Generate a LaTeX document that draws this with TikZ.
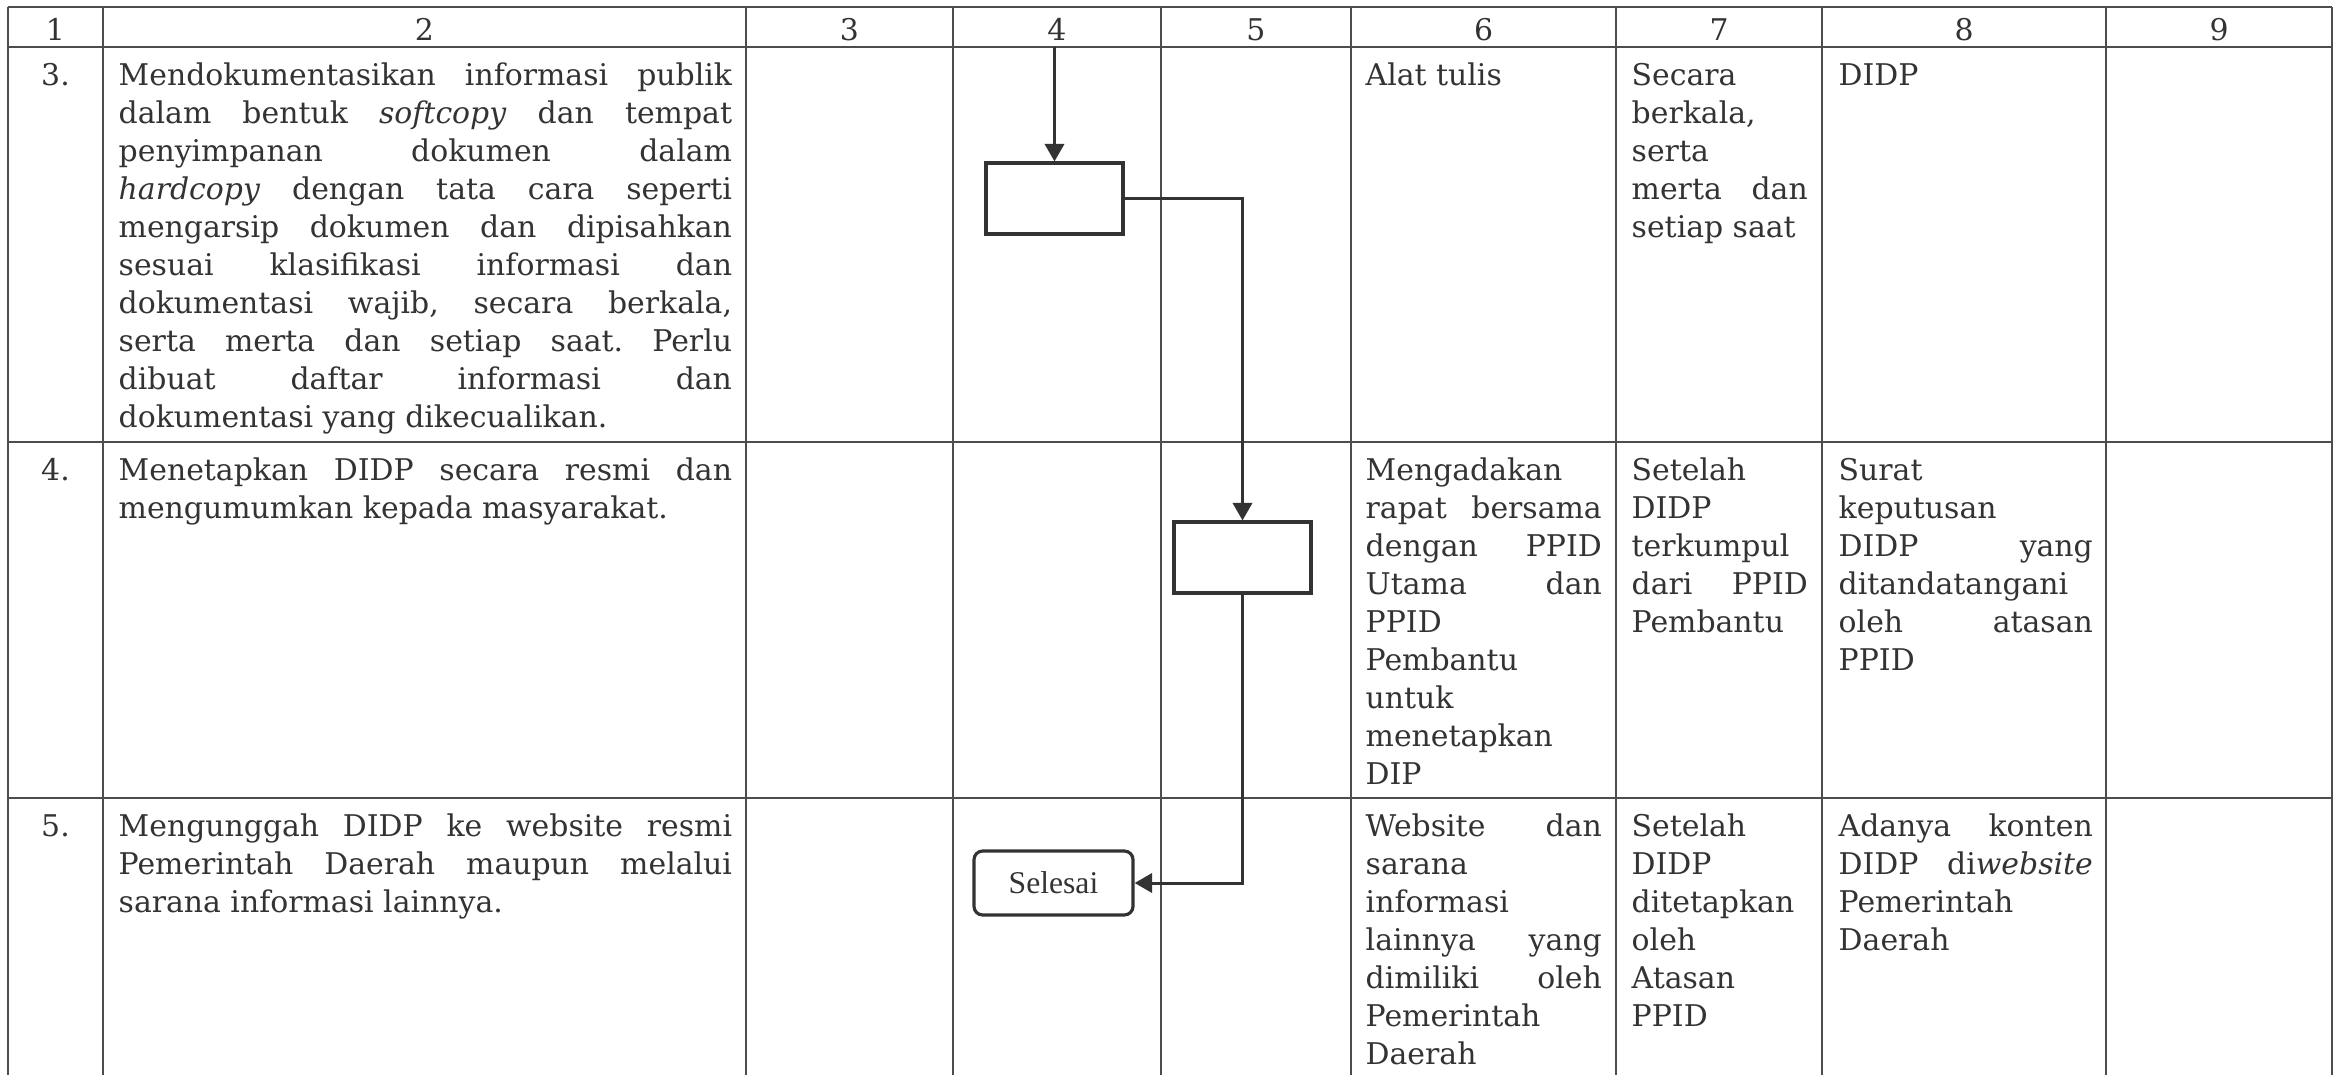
\documentclass[tikz,border=0pt]{standalone}
\usepackage{fontspec}
\setmainfont{DejaVu Serif}
\newfontfamily\timesfont{Liberation Serif}
\usetikzlibrary{arrows.meta}
\definecolor{ink}{HTML}{333333}
\definecolor{rulegray}{HTML}{4D4D4D}
\frenchspacing
\hyphenpenalty=10000
\exhyphenpenalty=10000
\hbadness=10000
\tolerance=10000
\newcommand{\cellfont}{\fontsize{8.5}{10.82}\selectfont}
\tikzset{
  gridline/.style={draw=rulegray, line width=0.55pt},
  cell/.style={anchor=base west, inner sep=0pt, text width=#1, align=justify, text=ink, font=\cellfont},
  num/.style={anchor=base, inner sep=0pt, text=ink, font=\cellfont},
  procbox/.style={draw=ink, line width=0.9pt, minimum width=1.37cm, minimum height=0.71cm, inner sep=0pt},
  endbox/.style={draw=ink, line width=0.9pt, rounded corners=2.5pt, minimum width=1.59cm, minimum height=0.64cm,
    inner sep=0pt, text=ink, font=\timesfont\fontsize{9}{10}\selectfont},
  flow/.style={draw=ink, line width=0.85pt, -{Triangle[length=5pt,width=5.5pt]}}
}
\begin{document}
\begin{tikzpicture}[x=0.01cm,y=-0.01cm]
      \fill[white] (0,0) rectangle (2344,1075);
      \useasboundingbox (0,0) rectangle (2344,1075);
      % table
      \foreach \x in {8,103,746,953,1161,1351,1616,1822,2106,2332}
        \draw[gridline] (\x,7) -- (\x,1075);
      \foreach \y in {7,47,442,798}
        \draw[gridline] (8,\y) -- (2332,\y);
      \foreach \i/\x in {1/55.5,2/424.5,3/849.5,4/1057,5/1256,6/1483.5,7/1719,8/1964,9/2219}
        \node[num] (h\i) at (\x,40) {\i};
      \draw
        (55.5,85) node[num] (n3){3.}
        (55.5,480) node[num] (n4){4.}
        (55.5,836) node[num] (n5){5.};
      % column 2
      \node[cell=6.13cm] (d3) at (118,85) {Mendokumentasikan informasi publik\linebreak
        dalam bentuk \textit{softcopy} dan tempat\linebreak
        penyimpanan dokumen dalam\linebreak
        \textit{hardcopy} dengan tata cara seperti\linebreak
        mengarsip dokumen dan dipisahkan\linebreak
        sesuai klasifikasi informasi dan\linebreak
        dokumentasi wajib, secara berkala,\linebreak
        serta merta dan setiap saat. Perlu\linebreak
        dibuat daftar informasi dan\linebreak
        dokumentasi yang dikecualikan.};
      \node[cell=6.13cm] (d4) at (118,480) {Menetapkan DIDP secara resmi dan\linebreak
        mengumumkan kepada masyarakat.};
      \node[cell=6.13cm] (d5) at (118,836) {Mengunggah DIDP ke website resmi\linebreak
        Pemerintah Daerah maupun melalui\linebreak
        sarana informasi lainnya.};
      % columns 6 to 8
      \node[cell=2.36cm] (s3) at (1365,85) {Alat tulis};
      \node[cell=2.36cm] (s4) at (1365,480) {Mengadakan\newline rapat bersama\linebreak
        dengan PPID\linebreak Utama dan\linebreak PPID\newline Pembantu\newline
        untuk\newline menetapkan\newline DIP};
      \node[cell=2.36cm] (s5) at (1365,836) {Website dan\linebreak sarana\newline
        informasi\newline lainnya yang\linebreak dimiliki oleh\linebreak
        Pemerintah\newline Daerah};
      \node[cell=1.76cm] (w3) at (1631,85) {Secara\newline berkala,\newline serta\newline
        merta dan\linebreak setiap saat};
      \node[cell=1.76cm] (w4) at (1631,480) {Setelah\newline DIDP\newline terkumpul\newline
        dari PPID\linebreak Pembantu};
      \node[cell=1.76cm] (w5) at (1631,836) {Setelah\newline DIDP\newline ditetapkan\newline
        oleh\newline Atasan\newline PPID};
      \node[cell=2.54cm] (o3) at (1838,85) {DIDP};
      \node[cell=2.54cm] (o4) at (1838,480) {Surat\newline keputusan\newline DIDP yang\linebreak
        ditandatangani\newline oleh atasan\linebreak PPID};
      \node[cell=2.54cm] (o5) at (1838,836) {Adanya konten\linebreak DIDP di\textit{website}\linebreak
        Pemerintah\newline Daerah};
      % flow
      \coordinate (start) at (1054.5,47);
      \node[procbox] (p1) at (1054.5,198.5) {};
      \node[procbox] (p2) at (1242.5,557.5) {};
      \node[endbox] (done) at (1053.5,883) {Selesai};
      \begin{scope}[flow]
        \draw (start) to (p1.north);
        \draw (p1.east) -| (p2.north);
        \draw (p2.south) |- (done.east);
      \end{scope}
\end{tikzpicture}
\end{document}
